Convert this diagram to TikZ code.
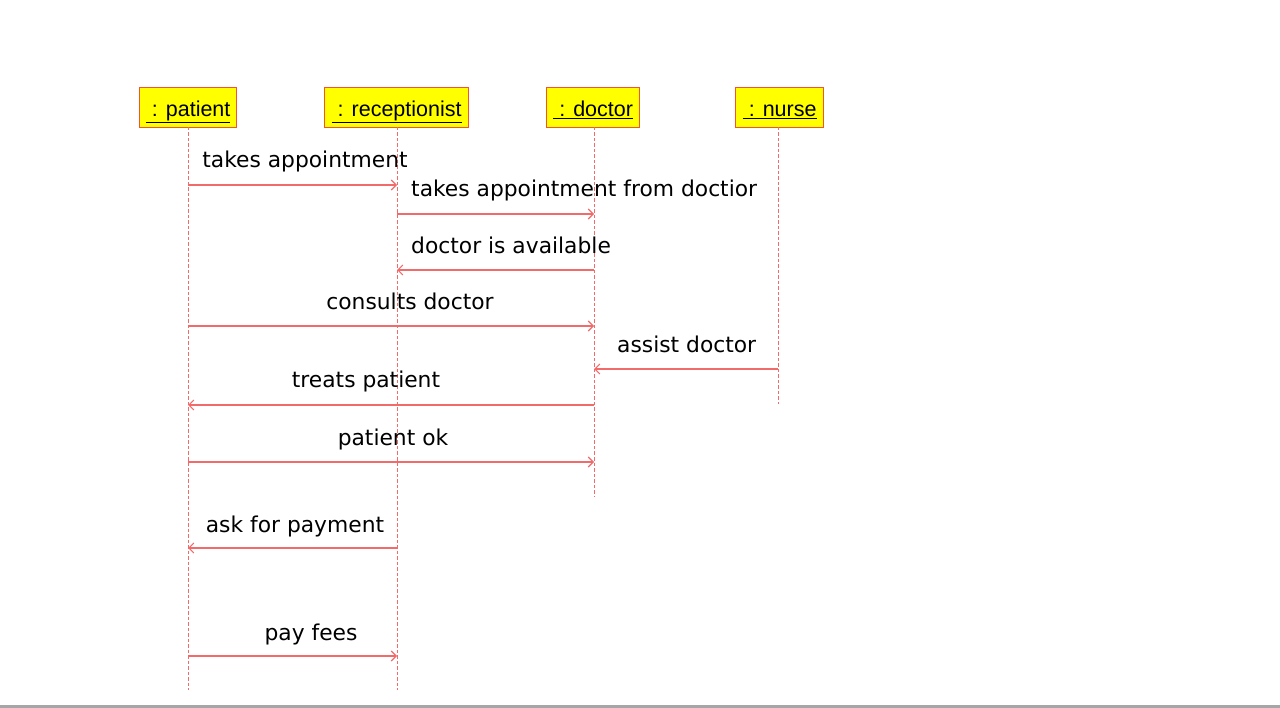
\documentclass[tikz,border=0pt]{standalone}
\usepackage{fontspec}
\setmainfont{DejaVu Sans}
\newfontfamily\boxfont{Liberation Sans}
\usetikzlibrary{arrows.meta}
\definecolor{msgred}{HTML}{F26B6B}
\definecolor{boxedge}{HTML}{F2542E}
\definecolor{boxfill}{HTML}{FFFF00}
\newcommand{\objlabel}[1]{\underline{\ : #1}}
\begin{document}
\begin{tikzpicture}[x=1pt,y=-1pt,
  obj/.style={draw=boxedge,fill=boxfill,line width=1.4pt,minimum height=40pt,inner sep=0pt,
    text height=19pt,text depth=1pt,
    font=\boxfont\fontsize{21.5}{23}\selectfont,anchor=north west},
  life/.style={draw=msgred,dashed,dash pattern=on 3.5pt off 2pt,line width=0.9pt},
  msg/.style={draw=msgred,line width=1.1pt,-{Straight Barb[length=5pt,width=10pt,line width=1.1pt]}},
  lbl/.style={font=\fontsize{21.8}{24}\selectfont,inner sep=0pt,anchor=base}]
\useasboundingbox (0,0) rectangle (1280,708);
\fill[gray!70] (0,705) rectangle (1280,708);
% objects
\node[obj,minimum width=97pt] (pat) at (139,87) {\objlabel{patient}};
\node[obj,minimum width=144pt] (rec) at (324,87) {\objlabel{receptionist}};
\node[obj,minimum width=93pt] (doc) at (546,87) {\objlabel{doctor}};
\node[obj,minimum width=88pt] (nur) at (735,87) {\objlabel{nurse}};
% lifelines
\coordinate (patL) at (188,127);
\coordinate (recL) at (397,127);
\coordinate (docL) at (594,127);
\coordinate (nurL) at (778,127);
\coordinate (patE) at (188,690);
\coordinate (recE) at (397,690);
\coordinate (docE) at (594,497);
\coordinate (nurE) at (778,404);
\draw[life] (patL) -- (patE);
\draw[life] (recL) -- (recE);
\draw[life] (docL) -- (docE);
\draw[life] (nurL) -- (nurE);
% messages
\draw[msg] (patL |- 0,185) -- (recL |- 0,185);
\node[lbl] (t1) at (305,168) {takes appointment};
\draw[msg] (recL |- 0,214) -- (docL |- 0,214);
\node[lbl,anchor=base west] (t2) at (411,197) {takes appointment from doctior};
\draw[msg] (docL |- 0,270) -- (recL |- 0,270);
\node[lbl,anchor=base west] (t3) at (411,254) {doctor is available};
\draw[msg] (patL |- 0,326) -- (docL |- 0,326);
\node[lbl] (t4) at (410,310) {consults doctor};
\draw[msg] (nurL |- 0,369) -- (docL |- 0,369);
\node[lbl,anchor=base west] (t5) at (617,353) {assist doctor};
\draw[msg] (docL |- 0,405) -- (patL |- 0,405);
\node[lbl] (t6) at (366,388) {treats patient};
\draw[msg] (patL |- 0,462) -- (docL |- 0,462);
\node[lbl] (t7) at (393,446) {patient ok};
\draw[msg] (recL |- 0,548) -- (patL |- 0,548);
\node[lbl] (t8) at (295,532) {ask for payment};
\draw[msg] (patL |- 0,656) -- (recL |- 0,656);
\node[lbl] (t9) at (311,640) {pay fees};
\end{tikzpicture}
\end{document}
